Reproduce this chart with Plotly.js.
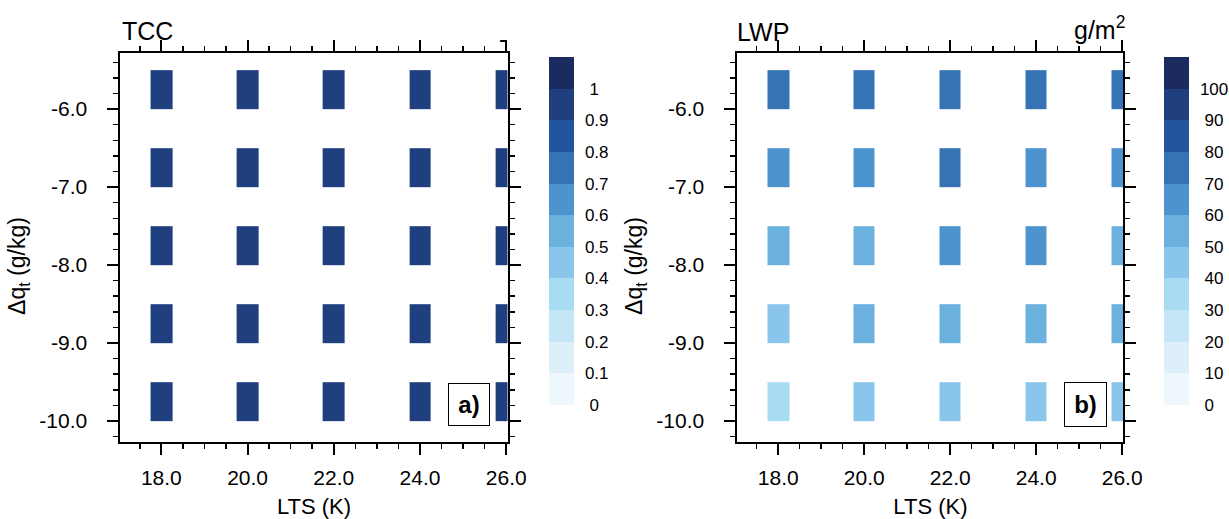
<!DOCTYPE html>
<html>
<head>
<meta charset="utf-8">
<script src="https://cdn.plot.ly/plotly-3.0.1.min.js"></script>
<style>html,body{margin:0;padding:0;background:#fff}#chart{width:1229px;height:519px}</style>
</head>
<body>
<div id="chart"></div>
<script>
// ---- data ----
const ltsValues = [18, 20, 22, 24, 26];            // LTS (K)
const dqtValues = [-10, -9, -8, -7, -6];           // Δq_t (g/kg)
// TCC rows ordered as dqtValues (bottom to top), columns as ltsValues
const tccRows = [
  [0.95, 0.95, 0.95, 0.95, 0.95],
  [0.95, 0.95, 0.95, 0.95, 0.95],
  [0.95, 0.95, 0.95, 0.95, 0.95],
  [0.95, 0.95, 0.95, 0.95, 0.95],
  [0.95, 0.95, 0.95, 0.95, 0.95]
];
// LWP (g/m2)
const lwpRows = [
  [36, 45, 44, 43, 42],
  [46, 55, 54, 53, 53],
  [56, 55, 63, 62, 54],
  [66, 65, 73, 64, 64],
  [75, 76, 75, 74, 75]
];
const xTickVals = [18, 20, 22, 24, 26];
const xTickText = ['18.0', '20.0', '22.0', '24.0', '26.0'];
const yTickVals = [-6, -7, -8, -9, -10];
const yTickText = ['-6.0', '-7.0', '-8.0', '-9.0', '-10.0'];
const tccLevels = [0, 0.1, 0.2, 0.3, 0.4, 0.5, 0.6, 0.7, 0.8, 0.9, 1];
const tccLevelText = ['0', '0.1', '0.2', '0.3', '0.4', '0.5', '0.6', '0.7', '0.8', '0.9', '1'];
const lwpLevels = [0, 10, 20, 30, 40, 50, 60, 70, 80, 90, 100];
const lwpLevelText = ['0', '10', '20', '30', '40', '50', '60', '70', '80', '90', '100'];
const bandColors = ['#eef7fc', '#ddf0f9', '#c4e6f6', '#a8dcf3', '#8ac6ec', '#6ab1dd',
                    '#4d93cd', '#3573b5', '#2354a0', '#1f3f7f', '#1c2b5f'];
const xTitle = 'LTS (K)';
const yTitle = '\u0394q<sub>t</sub> (g/kg)';

// ---- helpers ----
const W = 1229, H = 519;
const FONT = 'Liberation Sans, Arial, Helvetica, sans-serif';
const cellHalfW = 0.25, cellH = 0.5;

function discreteScale(colors) {
  const n = colors.length, s = [];
  colors.forEach((c, i) => { s.push([i / n, c]); s.push([(i + 1) / n, c]); });
  return s;
}
function xEdges() {
  const e = [];
  ltsValues.forEach(v => { e.push(v - cellHalfW); e.push(v + cellHalfW); });
  return e;
}
function yEdges() {
  const e = [];
  dqtValues.forEach(v => { e.push(v); e.push(v + cellH); });
  return e;
}
function gridZ(rows) {
  const z = [];
  rows.forEach((r, i) => {
    const row = [];
    r.forEach((v, j) => { row.push(v); if (j < r.length - 1) row.push(null); });
    z.push(row);
    if (i < rows.length - 1) z.push(row.map(() => null));
  });
  return z;
}
function pad(t, maxLen) { return t.length < maxLen ? '\u2008' + t : t; }

function makeTrace(rows, xa, ya, zmax, levels, levelText, cbx) {
  const maxLen = Math.max(...levelText.map(t => t.length));
  return {
    type: 'heatmap', x: xEdges(), y: yEdges(), z: gridZ(rows),
    xaxis: xa, yaxis: ya, zmin: 0, zmax: zmax, zsmooth: false,
    colorscale: discreteScale(bandColors), hoverongaps: false,
    colorbar: {
      x: cbx / W, xanchor: 'left', xref: 'paper', xpad: 0, ypad: 0,
      y: 1 - 57 / H, yanchor: 'top', len: 348, lenmode: 'pixels',
      thickness: 25, thicknessmode: 'pixels', outlinewidth: 0,
      tickmode: 'array', tickvals: levels, ticktext: levelText.map(t => pad(t, maxLen)),
      ticks: 'outside', ticklen: 8, tickcolor: 'rgba(0,0,0,0)',
      tickfont: {family: FONT, size: 17, color: '#000'}
    }
  };
}

const data = [
  makeTrace(tccRows, 'x', 'y', 1.1, tccLevels, tccLevelText, 552),
  makeTrace(lwpRows, 'x2', 'y2', 110, lwpLevels, lwpLevelText, 1170)
];

function xAxis(d0, d1, anchor) {
  return {
    domain: [d0 / W, d1 / W], anchor: anchor, range: [17.05, 26.03],
    tickmode: 'array', tickvals: xTickVals, ticktext: xTickText,
    ticks: 'outside', ticklen: 11, tickwidth: 2, tickcolor: '#000',
    mirror: 'allticks', showline: true, linewidth: 2, linecolor: '#000',
    showgrid: false, zeroline: false, ticklabelstandoff: 5,
    tickfont: {family: FONT, size: 21, color: '#000'},
    minor: {tickmode: 'linear', tick0: 17.5, dtick: 0.5, ticks: 'outside', ticklen: 5, tickwidth: 1.5, tickcolor: '#000', showgrid: false},
    title: {text: xTitle, font: {family: FONT, size: 22, color: '#000'}, standoff: 12},
    automargin: false, fixedrange: true
  };
}
function yAxis(anchor) {
  return {
    domain: [(H - 442) / H, (H - 53) / H], anchor: anchor, range: [-10.27, -5.28],
    tickmode: 'array', tickvals: yTickVals, ticktext: yTickText,
    ticks: 'outside', ticklen: 11, tickwidth: 2, tickcolor: '#000',
    mirror: 'allticks', showline: true, linewidth: 2, linecolor: '#000',
    showgrid: false, zeroline: false, ticklabelstandoff: 16,
    tickfont: {family: FONT, size: 21, color: '#000'},
    minor: {tickmode: 'linear', tick0: -5.4, dtick: 0.2, ticks: 'outside', ticklen: 5, tickwidth: 1.5, tickcolor: '#000', showgrid: false},
    automargin: false, fixedrange: true
  };
}

const ann = (text, x, y, xanchor, size, extra) => Object.assign({
  text: text, xref: 'paper', yref: 'paper', x: x / W, y: 1 - y / H,
  xanchor: xanchor, yanchor: 'middle', showarrow: false,
  font: {family: FONT, size: size, color: '#000'}
}, extra || {});

const layout = {
  width: W, height: H, margin: {l: 0, r: 0, t: 0, b: 0},
  paper_bgcolor: '#fff', plot_bgcolor: '#fff', showlegend: false,
  xaxis: xAxis(121, 510, 'y'), yaxis: yAxis('x'),
  xaxis2: xAxis(741, 1129, 'y2'), yaxis2: yAxis('x2'),
  annotations: [
    ann('TCC', 121, 31, 'left', 25),
    ann('LWP', 739, 32, 'left', 25),
    ann('g/m<sup>2</sup>', 1133, 28, 'right', 25),
    ann('-', 511, 39, 'right', 25),
    ann(yTitle, 18, 266, 'center', 23, {textangle: -90}),
    ann(yTitle, 638, 266, 'center', 23, {textangle: -90}),
    ann('<b>a)</b>', 471.7, 404.3, 'center', 24, {width: 40, height: 41, borderpad: 0, bordercolor: '#000', borderwidth: 1, bgcolor: '#fff', xanchor: 'center'}),
    ann('<b>b)</b>', 1090.5, 404.3, 'center', 24, {width: 41, height: 43, borderpad: 0, bordercolor: '#000', borderwidth: 1, bgcolor: '#fff', xanchor: 'center'})
  ]
};

Plotly.newPlot('chart', data, layout, {staticPlot: true, displayModeBar: false});
</script>
</body>
</html>
